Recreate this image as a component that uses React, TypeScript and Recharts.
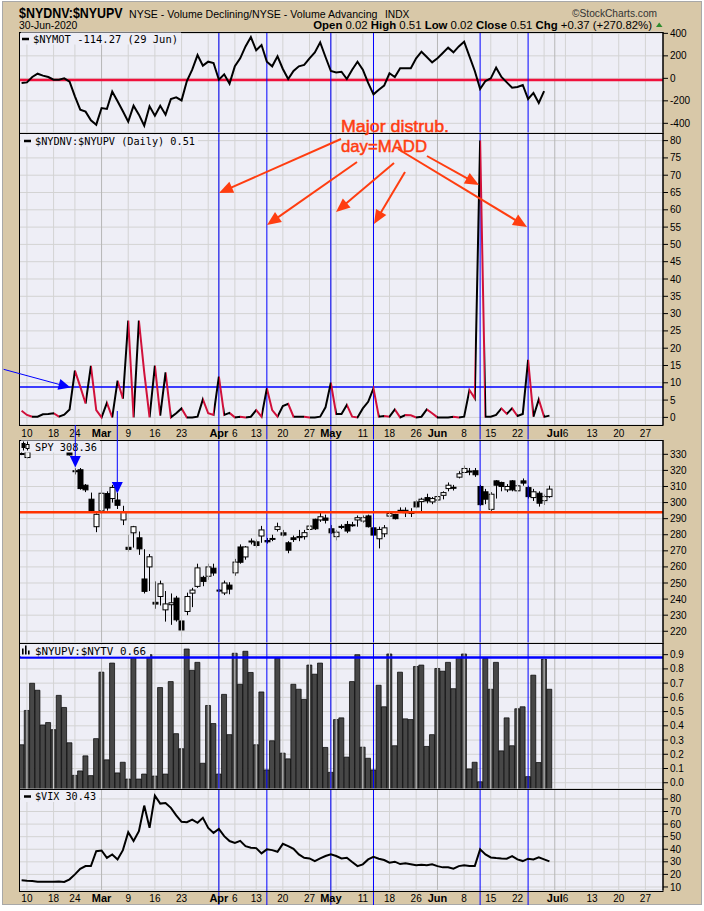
import React from "react";
import { ComposedChart, Line, Bar, XAxis, YAxis, CartesianGrid, ReferenceLine } from "recharts";

// trading days counted from 10-Feb-2020 (= 0); the series start on 7-Feb (-1) and end on 30-Jun (98)
const FIRST_DAY = -1;

const nymot = [
  -41, -36, 12, 41, 24, 12, -12, -12, 0, -30,
  -160, -278, -296, -373, -412, -264, -272, -118, -204, -293,
  -385, -243, -323, -420, -249, -332, -243, -323, -184, -169,
  -196, -24, 77, 207, 113, 148, 136, -12, 36, -47,
  107, 178, 284, 367, 249, 296, 148, 107, 196, 83,
  -6, 65, 107, 119, 178, 231, 320, 190, 65, 53,
  59, -6, 77, 148, 77, -41, -142, -101, -65, 45,
  12, 89, 89, 89, 178, 237, 190, 142, 178, 225,
  273, 231, 284, 326, 196, 65, -95, -24, 0, 95,
  12, -36, -83, -77, -59, -184, -130, -219, -114, null,
];

const ratio = [
  1.9, 0.7, 0.2, 0.2, 0.9, 1.0, 1.2, 0.2, 0.8, 2.3,
  13.5, 8.9, 4.0, 14.9, 2.1, 0, 4.2, 0, 10.6, 5.4,
  28, 0, 28, 13, 0, 15, 0.5, 13, 0, 1.2,
  2.6, 0, 0, 0.2, 5.2, 1.2, 0.7, 11.8, 0.7, 1.3,
  0, 0.2, 0, 0.2, 2.1, 0.2, 8.4, 2.1, 0.2, 3.3,
  3.9, 0.2, 0.2, 0.2, 0, 0, 0.2, 2.9, 10, 1.0,
  1.0, 3.6, 0.2, 0, 2.6, 4.5, 8.4, 0.2, 0.4, 0.2,
  2.3, 0, 0.7, 0.6, 0, 0.2, 2.3, 1.2, 0, 0,
  0, 0.2, 0, 0.2, 7.9, 5.5, 80, 0.2, 0.2, 0.7,
  2.6, 1.0, 2.6, 0.4, 1.0, 16.6, 0.2, 5.2, 0.14, 0.51,
];

const spyOpen = [
  330.5, 328, 332, 334.5, 335.5, 336.5, 335.5, 336.5, 336, 332.4,
  319.8, 320.4, 310.8, 302.1, 285, 294.8, 305.6, 302.5, 301.6, 289.2,
  272.2, 281.2, 278.1, 252.5, 260, 238, 241.6, 233.3, 236.5, 240.6,
  226.4, 232.3, 243.7, 247.9, 253.5, 254.2, 259.2, 245.6, 243.8, 248.7,
  256.3, 272.4, 266.2, 276.1, 275.6, 279.2, 276.4, 277.3, 283.3, 281.2,
  275, 278.1, 278.2, 278.8, 283.3, 289.6, 289.2, 290.4, 283.7, 278.8,
  285.2, 286.4, 285.8, 289.2, 288.5, 291.7, 284.3, 277.5, 280.6, 291.6,
  292.6, 295.2, 295.2, 293.9, 300.4, 300.6, 303.1, 300.4, 301.6, 304.5,
  308.7, 309.5, 315.8, 318.7, 319.6, 319.8, 310, 306.7, 295.8, 313.5,
  312.5, 307.9, 313.5, 307.3, 313.5, 309.3, 303.1, 305.8, 301.2, 303.7,
];
const spyHigh = [
  331.5, 332, 335, 335.5, 337.5, 337.5, 337.5, 337, 338, 333,
  321.3, 321.5, 311.5, 306.2, 293.3, 307.7, 307, 311, 306, 298,
  280, 285.5, 282, 271, 268, 251, 251.5, 245, 243.5, 242,
  228.5, 244, 247, 262, 254.5, 262, 262, 246.2, 251.5, 250.5,
  265, 274, 273, 277.7, 277, 285.5, 278, 280, 287.5, 283,
  276, 279.5, 283, 283, 287.5, 290, 294, 292.5, 286, 283,
  286.5, 288.5, 288, 292, 292, 292.5, 285, 285, 286, 295.5,
  293, 297, 297, 296.5, 301.5, 303, 305.5, 303.5, 305.5, 307,
  312.5, 311, 319.5, 323, 321.5, 321.5, 311, 308.5, 306.5, 314,
  313, 311.5, 314, 311.5, 315, 310.5, 308.5, 307, 305, 310.5,
];
const spyLow = [
  329.5, 327.5, 331.5, 333, 334.5, 332, 335, 331.5, 335.5, 329.3,
  317.5, 308, 306.5, 294, 281.6, 290, 295, 300, 296, 286,
  269.5, 272, 267.5, 243.5, 245, 234, 236, 226, 224, 226,
  216.7, 230, 235, 247, 248, 252, 254.5, 244.5, 242.5, 243,
  254.5, 262, 264.5, 274, 272, 275, 274.5, 276, 282, 279,
  268.5, 275.5, 276, 277, 282, 283, 288, 287, 280.5, 276.5,
  283.5, 281, 285, 285, 287.5, 284.5, 279, 271.5, 278.5, 291.2,
  289.5, 294, 291, 291, 296.5, 294, 299.5, 299, 298.5, 302,
  307, 307.5, 315, 318.5, 317, 316, 298, 299, 294.6, 302.5,
  307, 306.5, 307, 305.5, 310.5, 302.5, 301, 297.5, 298.5, 303,
];
const spyClose = [
  330, 331.5, 334.5, 335, 337, 336, 337, 335.5, 337.5, 329.6,
  319.3, 308.7, 307.9, 294.8, 292.7, 305.8, 296.6, 309.4, 298.3, 294.1,
  270.9, 285, 271.2, 244.8, 266.3, 236.9, 249.5, 237, 237.7, 227.1,
  220.8, 241.6, 245.6, 259.4, 251, 260, 256.2, 245, 250, 246.2,
  263, 262.9, 272.4, 275.8, 273.3, 283, 275.6, 277.7, 285, 279.8,
  270.4, 277, 278.9, 281.3, 285.4, 283.7, 291.2, 289, 281.2, 281.6,
  284.8, 282.3, 286.2, 290.6, 290.6, 285, 279.8, 283.3, 284.3, 293.2,
  290, 294.9, 293.7, 293.6, 297.3, 302.1, 301, 302.5, 303.7, 306.2,
  310.8, 309.3, 317.9, 321.2, 319.4, 317.3, 298.7, 302.1, 305.2, 310.8,
  310, 310, 307.9, 310.4, 312.1, 303.7, 306.7, 299.6, 303.7, 308.36,
];

const upv = [
  0.267, 0.508, 0.699, 0.65, 0.406, 0.423, 0.373, 0.614, 0.529, 0.281,
  0.052, 0.083, 0.189, 0.05, 0.31, 0.777, 0.161, 0.841, 0.069, 0.144,
  0.026, 0.879, 0.026, 0.061, 0.9, 0.047, 0.669, 0.061, 0.711, 0.345,
  0.239, 0.94, 0.79, 0.846, 0.137, 0.543, 0.416, 0.061, 0.621, 0.338,
  0.91, 0.692, 0.924, 0.775, 0.267, 0.638, 0.09, 0.295, 0.876, 0.208,
  0.168, 0.692, 0.657, 0.586, 0.827, 0.763, 0.841, 0.248, 0.073, 0.444,
  0.456, 0.18, 0.711, 0.9, 0.25, 0.172, 0.09, 0.685, 0.534, 0.905,
  0.26, 0.777, 0.449, 0.444, 0.817, 0.827, 0.255, 0.338, 0.803, 0.784,
  0.846, 0.661, 0.881, 0.905, 0.097, 0.144, 0.007, 0.874, 0.657, 0.846,
  0.224, 0.456, 0.26, 0.52, 0.534, 0.043, 0.756, 0.142, 0.869, 0.657,
];

const vix = [
  15.3, 15, 14.8, 14.2, 14.1, 14.2, 14.1, 14.4, 14, 16.1,
  20, 24.5, 26.6, 26.6, 38.5, 39, 33.2, 35.9, 31.9, 39.3,
  53.6, 46.5, 54.4, 74.7, 57, 82.6, 76.3, 76.8, 72.9, 67,
  61.8, 61.5, 63.6, 61, 65, 57, 53, 56.2, 50.4, 46.5,
  45.1, 46.7, 42.5, 41.2, 40.9, 36.7, 39.9, 39.3, 38, 44.3,
  42.5, 40.4, 35.9, 33.2, 32.7, 30.6, 32.7, 34.6, 35.9, 34.6,
  32.7, 33.2, 29.8, 26.6, 28, 31.9, 34, 32.5, 31.4, 29.3,
  30.1, 28.2, 28.8, 28, 27.2, 27.7, 27.2, 28, 26.6, 25.6,
  25.6, 24.5, 26.6, 27.2, 26.6, 26.6, 39.9, 35.9, 33.5, 33,
  32.7, 32.5, 34.6, 31.9, 30.6, 32.5, 31.9, 33.5, 31.9, 30.4,
];

// x axis (in trading-day units)
const tickDays = [0, 5, 9, 14, 19, 24, 29, 36, 39, 43, 48, 53, 57, 63, 68, 73, 77, 82, 87, 92, 99, 101, 106, 111, 116];
const tickLabels = ["10", "18", "24", "Mar", "9", "16", "23", "Apr", "6", "13", "20", "27", "May", "11", "18", "26", "Jun", "8", "15", "22", "Jul", "6", "13", "20", "27"];
const gridDays = [0, 5, 9, 19, 24, 29, 34, 39, 43, 48, 53, 58, 63, 68, 73, 82, 87, 92, 97, 101, 106, 111, 116];
const monthDays = [14, 36, 57, 77, 99];
const markDays = [36, 45, 57, 65, 85, 94];

const rows = nymot.map((m, k) => ({
  i: k + FIRST_DAY,
  m,
  r: ratio[k],
  o: spyOpen[k],
  h: spyHigh[k],
  l: spyLow[k],
  c: spyClose[k],
  u: upv[k],
  v: vix[k],
}));

const DMIN = -1.3;
const DMAX = 119.3;
const UPV_MIN = -0.044;

const FONT = "'Liberation Sans', Arial, sans-serif";
const MONO = "'DejaVu Sans Mono', monospace";
const TAN = "#D8C8A8";
const PLOT = "#EEEEF6";
const GRID = "#D3D3D3";
const MONTH = "#B6B6B6";
const BLUE = "#0000FF";
const ANNOT = "#FF3D10";

const axisTicks = [...new Set([...tickDays, ...markDays])].sort((a, b) => a - b);

function DateTick(props: any) {
  const { x, y, payload } = props;
  const k = tickDays.indexOf(payload.value);
  const label = k >= 0 ? tickLabels[k] : "";
  const month = /^[A-Z]/.test(label);
  return (
    <g>
      {markDays.includes(payload.value) && <line x1={x} x2={x} y1={y} y2={y + 15} stroke={BLUE} />}
      {label && (
        <text x={x} y={y + 11.5} textAnchor="middle" fontFamily={FONT} fontSize={month ? 11 : 10}
          fontWeight={month ? 700 : 400} fill="#000">
          {label}
        </text>
      )}
    </g>
  );
}

function Candle(props: any) {
  const { x, y, width, height, payload } = props;
  const top = Math.min(y, y + height);
  const span = Math.abs(height);
  const range = payload.h - payload.l || 1;
  const py = (v: number) => top + ((payload.h - v) / range) * span;
  const cx = Math.round(x + width / 2) + 0.5;
  const bodyTop = py(Math.max(payload.o, payload.c));
  const bodyBot = py(Math.min(payload.o, payload.c));
  const up = payload.c >= payload.o;
  return (
    <g>
      <line x1={cx} x2={cx} y1={top} y2={top + span} stroke="#000" strokeWidth={1} />
      <rect x={cx - 2.5} y={bodyTop} width={5} height={Math.max(bodyBot - bodyTop, 1)}
        fill={up ? "#fff" : "#000"} stroke="#000" strokeWidth={1} />
    </g>
  );
}

const xAxis = (show: boolean) => (
  <XAxis type="number" dataKey="i" domain={[DMIN, DMAX]} allowDataOverflow ticks={axisTicks} interval={0}
    hide={!show} height={show ? 15 : 0} tick={(p: any) => <DateTick {...p} />} tickLine={false}
    axisLine={false} tickSize={0} tickMargin={0} />
);

const yAxis = (domain: number[], ticks: number[], fmt?: (v: number) => string) => (
  <YAxis orientation="right" width={41} domain={domain} ticks={ticks} interval={0} allowDataOverflow
    tick={{ fontSize: 10, fill: "#000", fontFamily: FONT }} tickSize={5} tickMargin={2}
    tickLine={{ stroke: "#000" }} axisLine={{ stroke: "#000" }} tickFormatter={fmt} />
);

const vGrid = () => [
  ...gridDays.map((d) => <ReferenceLine key={"g" + d} x={d} stroke={GRID} />),
  ...monthDays.map((d) => <ReferenceLine key={"m" + d} x={d} stroke={MONTH} />),
];
const marks = () => markDays.map((d) => <ReferenceLine key={"b" + d} x={d} stroke={BLUE} />);

const range = (a: number, b: number, s: number) => {
  const out: number[] = [];
  for (let v = a; v <= b + 1e-9; v += s) out.push(Math.round(v * 100) / 100);
  return out;
};

const M = { top: 0, right: 0, bottom: 0, left: 20 };

function arrow(tail: number[], tip: number[], len: number, half: number) {
  const dx = tip[0] - tail[0];
  const dy = tip[1] - tail[1];
  const d = Math.hypot(dx, dy);
  const ux = dx / d;
  const uy = dy / d;
  const bx = tip[0] - ux * len;
  const by = tip[1] - uy * len;
  return {
    line: [tail[0], tail[1], bx + ux * 2, by + uy * 2],
    head: `${tip[0]},${tip[1]} ${bx - uy * half},${by + ux * half} ${bx + uy * half},${by - ux * half}`,
  };
}

const redArrows = [
  [[341, 139], [219, 193]],
  [[357, 162], [267, 225]],
  [[394, 163], [336, 212]],
  [[405, 172], [374, 224]],
  [[398, 149], [527, 227]],
  [[427, 156], [479, 185]],
];

const panelBoxes = [
  [32, 133],
  [133, 425],
  [440, 643],
  [643, 789],
  [789, 891],
];

function Legend({ x, y, w, text, icon, len }: any) {
  return (
    <g>
      <rect x={21} y={y - 10} width={w} height={12} fill={PLOT} />
      {icon === "line" && <line x1={x - 11} x2={x - 4} y1={y - 3.5} y2={y - 3.5} stroke="#000" strokeWidth={2.5} />}
      {icon === "bar" && (
        <g fill="#000">
          <rect x={x - 13} y={y - 6} width={1.6} height={6} />
          <rect x={x - 10} y={y - 9} width={1.6} height={9} />
          <rect x={x - 7} y={y - 4} width={1.6} height={4} />
        </g>
      )}
      {icon === "candle" && (
        <g stroke="#000" strokeWidth={1}>
          <line x1={x - 11.5} x2={x - 11.5} y1={y - 9} y2={y} />
          <rect x={x - 13} y={y - 7} width={3} height={4} fill="#000" />
          <line x1={x - 7.5} x2={x - 7.5} y1={y - 9} y2={y} />
          <rect x={x - 9} y={y - 6} width={3} height={4} fill="#fff" />
        </g>
      )}
      <text x={x} y={y} fontFamily={MONO} fontSize={10.5} fill="#000" textLength={len} lengthAdjust="spacingAndGlyphs">
        {text}
      </text>
    </g>
  );
}

export default function App() {
  const n = rows.length;
  const stops: React.ReactNode[] = [];
  for (let j = 0; j < n - 1; j++) {
    const col = rows[j + 1].r >= rows[j].r ? "#000000" : "#D0103A";
    stops.push(<stop key={"a" + j} offset={j / (n - 1)} stopColor={col} />);
    stops.push(<stop key={"b" + j} offset={(j + 1) / (n - 1)} stopColor={col} />);
  }

  return (
    <div style={{ position: "relative", width: 704, height: 911, background: "#fff", overflow: "hidden" }}>
      <style>{"body{margin:0}.recharts-surface{overflow:visible}"}</style>
      <svg width={704} height={911} style={{ position: "absolute", left: 0, top: 0 }}>
        <rect x={2.5} y={1.5} width={699} height={903} fill={TAN} stroke="#A8A8A8" />
        {panelBoxes.map(([t, b]) => (
          <rect key={t} x={20} y={t} width={643} height={b - t} fill={PLOT} />
        ))}
      </svg>

      <div style={{ position: "absolute", left: 0, top: 32 }}>
        <ComposedChart width={704} height={101} data={rows} margin={M}>
          <CartesianGrid vertical={false} stroke={GRID} />
          {xAxis(false)}
          {yAxis([-486, 412], [-400, -200, 0, 200, 400])}
          {vGrid()}
          <ReferenceLine y={-15} stroke="#F0103C" strokeWidth={2.5} />
          {marks()}
          <Line dataKey="m" stroke="#000" strokeWidth={2} dot={false} isAnimationActive={false} connectNulls={false} />
        </ComposedChart>
      </div>

      <div style={{ position: "absolute", left: 0, top: 133 }}>
        <ComposedChart width={704} height={307} data={rows} margin={M}>
          <defs>
            <linearGradient id="ratioGrad" x1="0" y1="0" x2="1" y2="0">
              {stops}
            </linearGradient>
          </defs>
          <CartesianGrid vertical={false} stroke={GRID} />
          {xAxis(true)}
          {yAxis([-2.2, 82.2], range(0, 80, 5))}
          {vGrid()}
          {marks()}
          <ReferenceLine y={8.8} stroke={BLUE} strokeWidth={1.5} />
          <Line dataKey="r" stroke="url(#ratioGrad)" strokeWidth={2} dot={false} isAnimationActive={false} />
        </ComposedChart>
      </div>

      <div style={{ position: "absolute", left: 0, top: 440 }}>
        <ComposedChart width={704} height={203} data={rows} margin={M}>
          <CartesianGrid vertical={false} stroke={GRID} />
          {xAxis(false)}
          {yAxis([212.7, 338.9], range(220, 330, 10))}
          {vGrid()}
          {marks()}
          <ReferenceLine y={294} stroke="#FF3300" strokeWidth={2.5} />
          <Bar dataKey={(d: any) => [d.l, d.h]} barSize={5} shape={(p: any) => <Candle {...p} />} isAnimationActive={false} />
        </ComposedChart>
      </div>

      <div style={{ position: "absolute", left: 0, top: 643 }}>
        <ComposedChart width={704} height={146} data={rows} margin={M}>
          <CartesianGrid vertical={false} stroke={GRID} />
          {xAxis(false)}
          {yAxis([UPV_MIN, 0.982], range(0, 0.9, 0.1), (v) => v.toFixed(1))}
          {vGrid()}
          {marks()}
          <Bar dataKey={(d: any) => [UPV_MIN, d.u]} barSize={5} fill="#474747" stroke="#000" strokeWidth={0.7} isAnimationActive={false} />
          <ReferenceLine y={0.88} stroke={BLUE} strokeWidth={2.5} />
        </ComposedChart>
      </div>

      <div style={{ position: "absolute", left: 0, top: 789 }}>
        <ComposedChart width={704} height={116} data={rows} margin={M}>
          <CartesianGrid vertical={false} stroke={GRID} />
          {xAxis(true)}
          {yAxis([7.6, 87.9], range(10, 80, 10))}
          {vGrid()}
          {marks()}
          <Line dataKey="v" stroke="#000" strokeWidth={2} dot={false} isAnimationActive={false} />
        </ComposedChart>
      </div>

      <svg width={704} height={911} style={{ position: "absolute", left: 0, top: 0, pointerEvents: "none" }}>
        {panelBoxes.map(([t, b]) => (
          <rect key={t} x={19.5} y={t + 0.5} width={643.5} height={b - t} fill="none" stroke="#000" strokeWidth={1} />
        ))}

        <text transform="translate(19,17.5) scale(0.83,1)" fontFamily={FONT} fontWeight={700} fontSize={15}>$NYDNV:$NYUPV</text>
        <text x={129} y={17.5} fontFamily={FONT} fontSize={10.6}>NYSE - Volume Declining/NYSE - Volume Advancing</text>
        <text x={385} y={17.5} fontFamily={FONT} fontSize={10.2}>INDX</text>
        <text x={572} y={16.7} fontFamily={FONT} fontSize={10.2} fill="#333">©StockCharts.com</text>
        <text x={19} y={29.3} fontFamily={FONT} fontSize={10.4}>30-Jun-2020</text>
        <text x={652} y={29.3} textAnchor="end" fontFamily={FONT} fontSize={11.4} fill="#000">
          <tspan fontWeight={700}>Open</tspan>
          <tspan>{" 0.02 "}</tspan>
          <tspan fontWeight={700}>High</tspan>
          <tspan>{" 0.51 "}</tspan>
          <tspan fontWeight={700}>Low</tspan>
          <tspan>{" 0.02 "}</tspan>
          <tspan fontWeight={700}>Close</tspan>
          <tspan>{" 0.51 "}</tspan>
          <tspan fontWeight={700}>Chg</tspan>
          <tspan>{" +0.37 (+270.82%)"}</tspan>
        </text>
        <polygon points="656,27 662.5,27 659.2,22.5" fill="#2E8B2E" />

        <Legend x={33} y={42.5} w={160} text="$NYMOT -114.27 (29 Jun)" icon="line" len={145} />
        <Legend x={35} y={144.5} w={177} text="$NYDNV:$NYUPV (Daily) 0.51" icon="line" len={160} />
        <Legend x={35} y={450.5} w={79} text="SPY 308.36" icon="candle" len={62} />
        <Legend x={35} y={654.5} w={129} text="$NYUPV:$NYTV 0.66" icon="bar" len={111} />
        <Legend x={35} y={800} w={78} text="$VIX 30.43" icon="line" len={61} />

        <text x={341} y={132} fontFamily={FONT} fontSize={17} fill={ANNOT} stroke={ANNOT} strokeWidth={0.5}
          textLength={108} lengthAdjust="spacingAndGlyphs">Major distrub.</text>
        <text x={341} y={151.5} fontFamily={FONT} fontSize={17} fill={ANNOT} stroke={ANNOT} strokeWidth={0.5}
          textLength={86} lengthAdjust="spacingAndGlyphs">day=MADD</text>
        {redArrows.map(([tail, tip], k) => {
          const a = arrow(tail, tip, 14, 6);
          return (
            <g key={k}>
              <line x1={a.line[0]} y1={a.line[1]} x2={a.line[2]} y2={a.line[3]} stroke={ANNOT} strokeWidth={2} />
              <polygon points={a.head} fill={ANNOT} />
            </g>
          );
        })}

        {(() => {
          const a = arrow([3.6, 369.3], [70.5, 387.5], 12, 5.5);
          return (
            <g>
              <line x1={a.line[0]} y1={a.line[1]} x2={a.line[2]} y2={a.line[3]} stroke={BLUE} strokeWidth={1} />
              <polygon points={a.head} fill={BLUE} />
            </g>
          );
        })()}
        <line x1={75.3} x2={75.3} y1={425} y2={457} stroke={BLUE} />
        <polygon points="69.8,456 80.8,456 75.3,467.5" fill={BLUE} />
        <line x1={117.3} x2={117.3} y1={411} y2={483} stroke={BLUE} />
        <polygon points="111.8,482 122.8,482 117.3,493.5" fill={BLUE} />
      </svg>
    </div>
  );
}
